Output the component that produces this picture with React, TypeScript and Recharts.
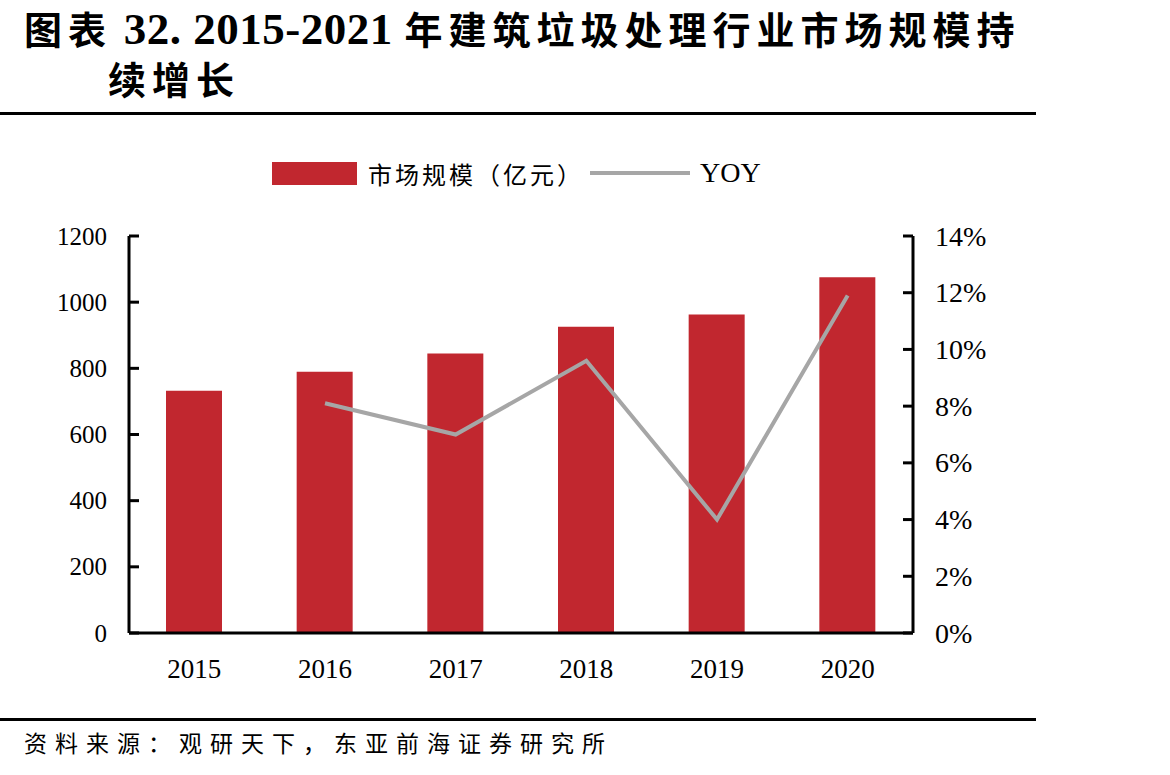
import React from "react";
import {
  ComposedChart,
  Bar,
  Line,
  XAxis,
  YAxis,
} from "recharts";

// 2015-2020 construction waste treatment market
const years = ["2015", "2016", "2017", "2018", "2019", "2020"];
const marketSize = [732, 790, 845, 926, 963, 1075]; // 亿元
const yoy = [null, 8.1, 7.0, 9.6, 4.0, 11.9]; // %

const leftTicks = [0, 200, 400, 600, 800, 1000, 1200];
const rightTicks = [0, 2, 4, 6, 8, 10, 12, 14];

const BAR_RED = "#C1272F";
const LINE_GRAY = "#A6A6A6";
const SERIF = '"Liberation Serif", "Times New Roman", serif';
const CJK = '"Liberation Serif", "Noto Sans CJK SC", sans-serif';

const chartData = years.map((year, i) => ({
  year,
  size: marketSize[i],
  yoy: yoy[i],
}));

// tick marks point into the plot area, labels sit outside
const LeftTick = (props: any) => {
  const { x, y, payload } = props;
  return (
    <g>
      <line x1={x} x2={x + 10} y1={y} y2={y} stroke="#000" strokeWidth={3} />
      <text
        x={x - 22}
        y={y}
        textAnchor="end"
        dominantBaseline="central"
        fontFamily={SERIF}
        fontSize={25}
        fill="#000"
      >
        {payload.value}
      </text>
    </g>
  );
};

const RightTick = (props: any) => {
  const { x, y, payload } = props;
  return (
    <g>
      <line x1={x - 10} x2={x} y1={y} y2={y} stroke="#000" strokeWidth={3} />
      <text
        x={x + 22}
        y={y}
        textAnchor="start"
        dominantBaseline="central"
        fontFamily={SERIF}
        fontSize={28}
        fill="#000"
      >
        {`${payload.value}%`}
      </text>
    </g>
  );
};

const BottomTick = (props: any) => {
  const { x, y, payload } = props;
  return (
    <text
      x={x}
      y={y + 36}
      textAnchor="middle"
      dominantBaseline="central"
      fontFamily={SERIF}
      fontSize={27}
      fill="#000"
    >
      {payload.value}
    </text>
  );
};

const Legend = () => (
  <div
    style={{
      position: "absolute",
      left: 272,
      top: 158,
      height: 30,
      display: "flex",
      alignItems: "center",
      fontFamily: CJK,
      color: "#000",
    }}
  >
    <div style={{ width: 85, height: 23, background: BAR_RED }} />
    <span style={{ marginLeft: 11, fontSize: 24, letterSpacing: 3 }}>
      市场规模（亿元）
    </span>
    <div
      style={{ marginLeft: 6, width: 100, height: 4, background: LINE_GRAY }}
    />
    <span style={{ marginLeft: 10, fontSize: 28, fontFamily: SERIF }}>YOY</span>
  </div>
);

export default function App() {
  return (
    <div
      style={{
        position: "absolute",
        left: 0,
        top: 0,
        width: 1170,
        height: 775,
        background: "#fff",
        overflow: "hidden",
      }}
    >
      <div
        style={{
          position: "absolute",
          left: 24,
          top: 4,
          lineHeight: "50px",
          fontSize: 38,
          fontWeight: 700,
          fontFamily: CJK,
          whiteSpace: "nowrap",
          color: "#000",
        }}
      >
        <span style={{ letterSpacing: 6 }}>图表</span>
        <span style={{ letterSpacing: 0.5, fontSize: 45 }}> 32. 2015-2021 </span>
        <span style={{ letterSpacing: 6 }}>年建筑垃圾处理行业市场规模持</span>
      </div>
      <div
        style={{
          position: "absolute",
          left: 108,
          top: 56,
          lineHeight: "50px",
          fontSize: 38,
          fontWeight: 700,
          fontFamily: CJK,
          letterSpacing: 6,
          color: "#000",
        }}
      >
        续增长
      </div>
      <div
        style={{
          position: "absolute",
          left: 0,
          top: 112,
          width: 1036,
          height: 3,
          background: "#000",
        }}
      />

      <Legend />

      <div style={{ position: "absolute", left: 0, top: 0 }}>
        <ComposedChart
          width={1170}
          height={775}
          data={chartData}
          margin={{ top: 236, right: 197, bottom: 102, left: 69 }}
        >
          <XAxis
            dataKey="year"
            height={40}
            axisLine={{ stroke: "#000", strokeWidth: 3 }}
            tickLine={false}
            tickSize={0}
            tickMargin={0}
            tick={<BottomTick />}
          />
          <YAxis
            yAxisId="left"
            orientation="left"
            width={60}
            domain={[0, 1200]}
            ticks={leftTicks}
            interval={0}
            axisLine={{ stroke: "#000", strokeWidth: 3 }}
            tickLine={false}
            tickSize={0}
            tickMargin={0}
            tick={<LeftTick />}
          />
          <YAxis
            yAxisId="right"
            orientation="right"
            width={60}
            domain={[0, 14]}
            ticks={rightTicks}
            interval={0}
            axisLine={{ stroke: "#000", strokeWidth: 3 }}
            tickLine={false}
            tickSize={0}
            tickMargin={0}
            tick={<RightTick />}
          />
          <Bar
            yAxisId="left"
            dataKey="size"
            fill={BAR_RED}
            barSize={56}
            isAnimationActive={false}
          />
          <Line
            yAxisId="right"
            type="linear"
            dataKey="yoy"
            stroke={LINE_GRAY}
            strokeWidth={4}
            dot={false}
            activeDot={false}
            isAnimationActive={false}
          />
        </ComposedChart>
      </div>

      <div
        style={{
          position: "absolute",
          left: 0,
          top: 718,
          width: 1036,
          height: 3,
          background: "#000",
        }}
      />
      <div
        style={{
          position: "absolute",
          left: 24,
          top: 730,
          lineHeight: "30px",
          fontSize: 23,
          letterSpacing: 8,
          fontFamily: CJK,
          color: "#000",
          whiteSpace: "nowrap",
        }}
      >
        资料来源：观研天下，东亚前海证券研究所
      </div>
    </div>
  );
}
